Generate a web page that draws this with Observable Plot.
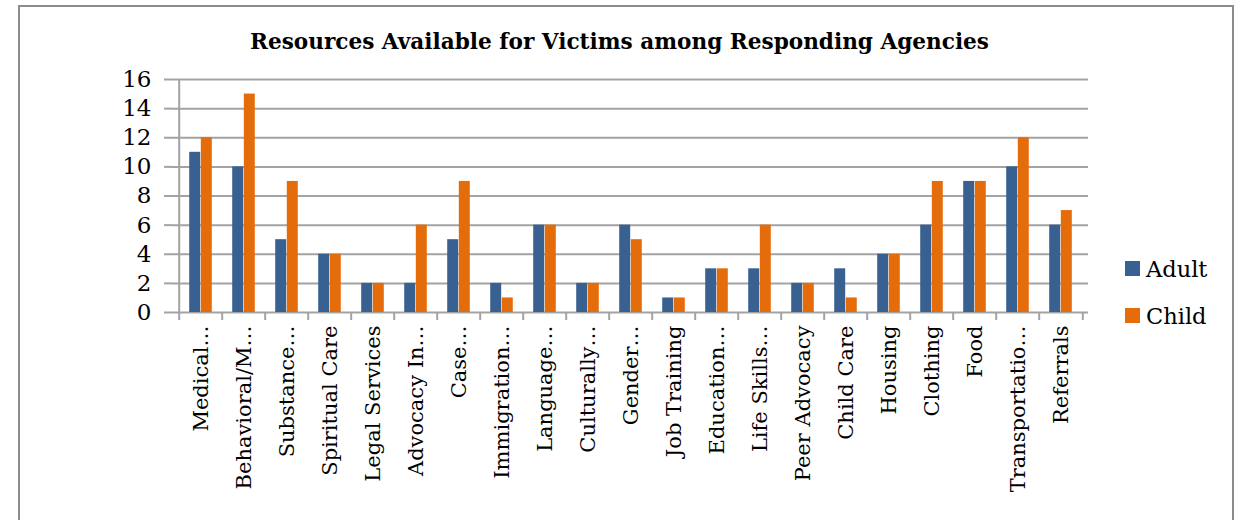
<!DOCTYPE html>
<html>
<head>
<meta charset="utf-8">
<script src="https://cdn.jsdelivr.net/npm/d3@7"></script>
<script src="https://cdn.jsdelivr.net/npm/@observablehq/plot@0.6"></script>
<style>
  body { margin: 0; background: #fff; }
  #wrap { position: relative; width: 1239px; height: 520px; overflow: hidden; font-family: "DejaVu Serif", serif; }
  #frame { position: absolute; left: 18px; top: 5px; width: 1216px; height: 530px; border: 2px solid #8c8c8c; box-sizing: border-box; }
  #title { position: absolute; left: 0; width: 1239px; top: 29px; text-align: center; font-weight: bold; font-size: 21.6px; color: #000; }
  #chart { position: absolute; left: 0; top: 0; }
  #legend { position: absolute; left: 1125px; top: 245px; font-size: 22.5px; color: #000; }
  .li { display: flex; align-items: center; height: 47px; }
  .sw { width: 15px; height: 15px; margin-right: 6px; }
</style>
</head>
<body>
<div id="wrap">
  <div id="frame"></div>
  <div id="chart"></div>
  <div id="title">Resources Available for Victims among Responding Agencies</div>
  <div id="legend"></div>
</div>
<script>
const categories = ["Medical…", "Behavioral/M…", "Substance…", "Spiritual Care", "Legal Services", "Advocacy In…", "Case…", "Immigration…", "Language…", "Culturally…", "Gender…", "Job Training", "Education…", "Life Skills…", "Peer Advocacy", "Child Care", "Housing", "Clothing", "Food", "Transportatio…", "Referrals"];
const adult = [11, 10, 5, 4, 2, 2, 5, 2, 6, 2, 6, 1, 3, 3, 2, 3, 4, 6, 9, 10, 6];
const child = [12, 15, 9, 4, 2, 6, 9, 1, 6, 2, 5, 1, 3, 6, 2, 1, 4, 9, 9, 12, 7];
const seriesNames = ["Adult", "Child"];
const seriesColors = ["#386192", "#E46C0A"];
const yTicks = [0, 2, 4, 6, 8, 10, 12, 14, 16];

const adultData = categories.map((c, i) => ({cat: c, value: adult[i], series: "Adult"}));
const childData = categories.map((c, i) => ({cat: c, value: child[i], series: "Child"}));

const W = 1239, H = 520;
const mL = 172, mR = 151, mT = 79, mB = 208;
const bw = (W - mL - mR) / categories.length;
const barW = 11.6;
const outer = (bw - 2 * barW) / 2;
const gray = "#a3a3a3";

const plot = Plot.plot({
  width: W, height: H,
  marginLeft: mL, marginRight: mR, marginTop: mT, marginBottom: mB,
  style: {fontFamily: "DejaVu Serif, serif", background: "transparent", color: "#000"},
  x: {domain: categories, padding: 0, label: null},
  y: {domain: [0, 16], label: null},
  color: {domain: seriesNames, range: seriesColors},
  marks: [
    Plot.ruleY(yTicks, {stroke: gray, strokeWidth: 2}),
    Plot.barY(adultData, {x: "cat", y: "value", fill: "series", insetLeft: outer, insetRight: outer + barW}),
    Plot.barY(childData, {x: "cat", y: "value", fill: "series", insetLeft: outer + barW, insetRight: outer}),
    Plot.ruleX([0], {x: () => categories[0], dx: -bw / 2, stroke: gray, strokeWidth: 2, y1: 0, y2: 16}),
    Plot.axisY({ticks: yTicks, tickSize: 8, tickPadding: 13, stroke: gray, strokeWidth: 2, fontSize: 23, tickFormat: d => d, color: "#000", label: null}),
    Plot.axisX({ticks: categories, tickFormat: () => "", tickSize: 8, dx: -bw / 2, stroke: gray, strokeWidth: 2, label: null}),
    Plot.axisX({ticks: [categories[categories.length - 1]], tickFormat: () => "", tickSize: 8, dx: bw / 2, stroke: gray, strokeWidth: 2, label: null}),
    Plot.axisX({ticks: categories, tickSize: 0, tickRotate: -90, tickPadding: 13, fontSize: 21, label: null, fill: "#000"})
  ]
});
document.getElementById("chart").appendChild(plot);

const legend = document.getElementById("legend");
seriesNames.forEach((s, i) => {
  const row = document.createElement("div");
  row.className = "li";
  const sw = document.createElement("div");
  sw.className = "sw";
  sw.style.background = seriesColors[i];
  const t = document.createElement("span");
  t.textContent = s;
  row.appendChild(sw);
  row.appendChild(t);
  legend.appendChild(row);
});
</script>
</body>
</html>
